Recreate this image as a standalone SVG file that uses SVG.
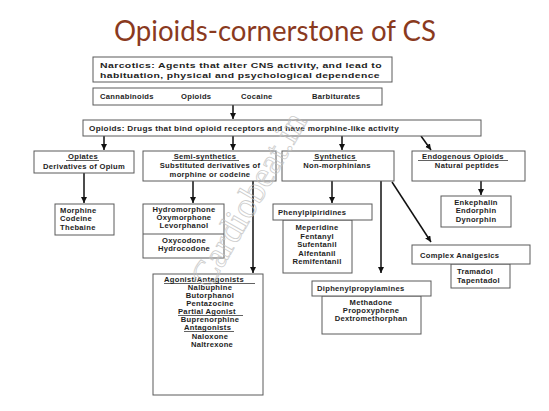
<svg xmlns="http://www.w3.org/2000/svg" width="549" height="411" viewBox="0 0 549 411">
<style>
.b{fill:#fff;stroke:#5a5a5a;stroke-width:1}
.t{font-family:"Liberation Sans",Arial,sans-serif;font-weight:bold;font-size:7.6px;letter-spacing:0.3px;fill:#1e1e1e}
.c{text-anchor:middle}
.u{stroke:#1e1e1e;stroke-width:0.7}
.a{stroke:#111;stroke-width:1.5;fill:none;marker-end:url(#ah)}
</style>
<defs>
<marker id="ah" markerUnits="userSpaceOnUse" markerWidth="8" markerHeight="8" refX="6" refY="3" orient="auto">
<path d="M0,0 L6,3 L0,6 Z" fill="#111"/>
</marker>
</defs>
<rect width="549" height="411" fill="#fff"/>
<text x="275" y="41" text-anchor="middle" font-family="Lato,'Open Sans',sans-serif" font-size="29" fill="#8a3a1e" textLength="322" lengthAdjust="spacingAndGlyphs">Opioids-cornerstone of CS</text>

<g id="connectors">
<line class="a" x1="233" y1="105" x2="233" y2="119"/>
<line class="a" x1="104" y1="136" x2="104" y2="150"/>
<line class="a" x1="233" y1="136" x2="233" y2="150"/>
<line class="a" x1="342" y1="136" x2="342" y2="150"/>
<line class="a" x1="421" y1="136" x2="431" y2="150"/>
<line class="a" x1="84" y1="173" x2="84" y2="203"/>
<line class="a" x1="193" y1="181" x2="193" y2="203"/>
<line class="a" x1="253" y1="181" x2="253" y2="273"/>
<line class="a" x1="332" y1="181" x2="332" y2="203"/>
<line class="a" x1="381" y1="181" x2="381" y2="273"/>
<line class="a" x1="392" y1="182" x2="431" y2="242"/>
<line class="a" x1="481" y1="181" x2="481" y2="195"/>
</g>

<g id="narcotics">
<rect class="b" x="93" y="57" width="299" height="25"/>
<text class="t" x="100" y="68" font-size="9.5" letter-spacing="0" textLength="282" lengthAdjust="spacingAndGlyphs">Narcotics:   Agents that alter CNS activity, and lead to</text>
<text class="t" x="100" y="78" font-size="9.5" letter-spacing="0" textLength="280" lengthAdjust="spacingAndGlyphs">habituation, physical and psychological dependence</text>
</g>

<g id="classes">
<rect class="b" x="93" y="88" width="289" height="17"/>
<text class="t" x="100" y="98.5">Cannabinoids</text>
<text class="t" x="181" y="98.5">Opioids</text>
<text class="t" x="241" y="98.5">Cocaine</text>
<text class="t" x="312" y="98.5">Barbiturates</text>
</g>

<g id="opioids">
<rect class="b" x="83" y="120" width="398" height="16"/>
<text class="t" x="89" y="130.5" letter-spacing="0" textLength="310" lengthAdjust="spacingAndGlyphs">Opioids: Drugs that bind opioid receptors and have morphine-like activity</text>
</g>

<g id="opiates">
<rect class="b" x="34" y="151" width="100" height="22"/>
<text class="t c" x="83" y="159">Opiates</text>
<line class="u" x1="66" y1="160.5" x2="99" y2="160.5"/>
<text class="t c" x="84" y="168.5">Derivatives of Opium</text>
</g>

<g id="semi">
<rect class="b" x="143" y="151" width="133" height="30"/>
<text class="t c" x="205" y="159">Semi-synthetics</text>
<line class="u" x1="172" y1="160.5" x2="239" y2="160.5"/>
<text class="t c" x="210" y="168">Substituted derivatives of</text>
<text class="t c" x="210" y="176.5">morphine or codeine</text>
</g>

<g id="synthetics">
<rect class="b" x="282" y="151" width="112" height="30"/>
<text class="t c" x="335" y="159">Synthetics</text>
<line class="u" x1="313" y1="160.5" x2="357" y2="160.5"/>
<text class="t c" x="337" y="168">Non-morphinians</text>
</g>

<g id="endogenous">
<rect class="b" x="412" y="151" width="113" height="30"/>
<text class="t c" x="463" y="159">Endogenous Opioids</text>
<line class="u" x1="418" y1="160.5" x2="508" y2="160.5"/>
<text class="t c" x="467" y="168">Natural peptides</text>
</g>

<g id="opium-drugs">
<rect class="b" x="55" y="204" width="59" height="31"/>
<text class="t" x="60" y="213">Morphine</text>
<text class="t" x="60" y="221">Codeine</text>
<text class="t" x="60" y="229.5">Thebaine</text>
</g>

<g id="semi-drugs">
<rect class="b" x="143" y="204" width="81" height="54"/>
<line x1="143" y1="234" x2="224" y2="234" stroke="#5a5a5a" stroke-width="1"/>
<text class="t c" x="184" y="212">Hydromorphone</text>
<text class="t c" x="184" y="220">Oxymorphone</text>
<text class="t c" x="184" y="228">Levorphanol</text>
<text class="t c" x="184" y="243">Oxycodone</text>
<text class="t c" x="184" y="251">Hydrocodone</text>
</g>

<g id="agonists">
<rect class="b" x="153" y="274" width="110" height="121"/>
<text class="t" x="164" y="282">Agonist/Antagonists</text>
<line class="u" x1="164" y1="283.5" x2="255" y2="283.5"/>
<text class="t c" x="210" y="290">Nalbuphine</text>
<text class="t c" x="210" y="298">Butorphanol</text>
<text class="t c" x="210" y="306">Pentazocine</text>
<text class="t" x="178" y="314">Partial Agonist</text>
<line class="u" x1="178" y1="315.5" x2="243" y2="315.5"/>
<text class="t c" x="210" y="322">Buprenorphine</text>
<text class="t" x="184" y="330">Antagonists</text>
<line class="u" x1="184" y1="331.5" x2="234" y2="331.5"/>
<text class="t c" x="210" y="339">Naloxone</text>
<text class="t c" x="212" y="347">Naltrexone</text>
</g>

<g id="phenyl">
<rect class="b" x="283" y="220" width="69" height="53"/>
<rect class="b" x="273" y="204" width="99" height="16"/>
<text class="t" x="278" y="214.5">Phenylpipiridines</text>
<text class="t c" x="317" y="230">Meperidine</text>
<text class="t c" x="317" y="238.5">Fentanyl</text>
<text class="t c" x="317" y="247">Sufentanil</text>
<text class="t c" x="317" y="255.5">Alfentanil</text>
<text class="t c" x="317" y="264">Remifentanil</text>
</g>

<g id="diphenyl">
<rect class="b" x="322" y="296" width="99" height="38"/>
<rect class="b" x="312" y="281" width="119" height="15"/>
<text class="t" x="317" y="291">Diphenylpropylamines</text>
<text class="t c" x="371" y="304.5">Methadone</text>
<text class="t c" x="371" y="312.5">Propoxyphene</text>
<text class="t c" x="371" y="320.5">Dextromethorphan</text>
</g>

<g id="endo-drugs">
<rect class="b" x="441" y="196" width="70" height="31"/>
<text class="t c" x="476" y="205">Enkephalin</text>
<text class="t c" x="476" y="213">Endorphin</text>
<text class="t c" x="476" y="221.5">Dynorphin</text>
</g>

<g id="complex">
<rect class="b" x="451" y="264" width="59" height="24"/>
<rect class="b" x="412" y="245" width="118" height="19"/>
<text class="t" x="420" y="257.5">Complex Analgesics</text>
<text class="t" x="457" y="274">Tramadol</text>
<text class="t" x="457" y="283">Tapentadol</text>
</g>

<text x="0" y="0" transform="translate(210,290) rotate(-60)" font-family="'Liberation Serif',serif" font-size="36" fill="none" stroke="#c4c4c4" stroke-width="0.8" opacity="0.85">Cardiobeat.in</text>
</svg>
